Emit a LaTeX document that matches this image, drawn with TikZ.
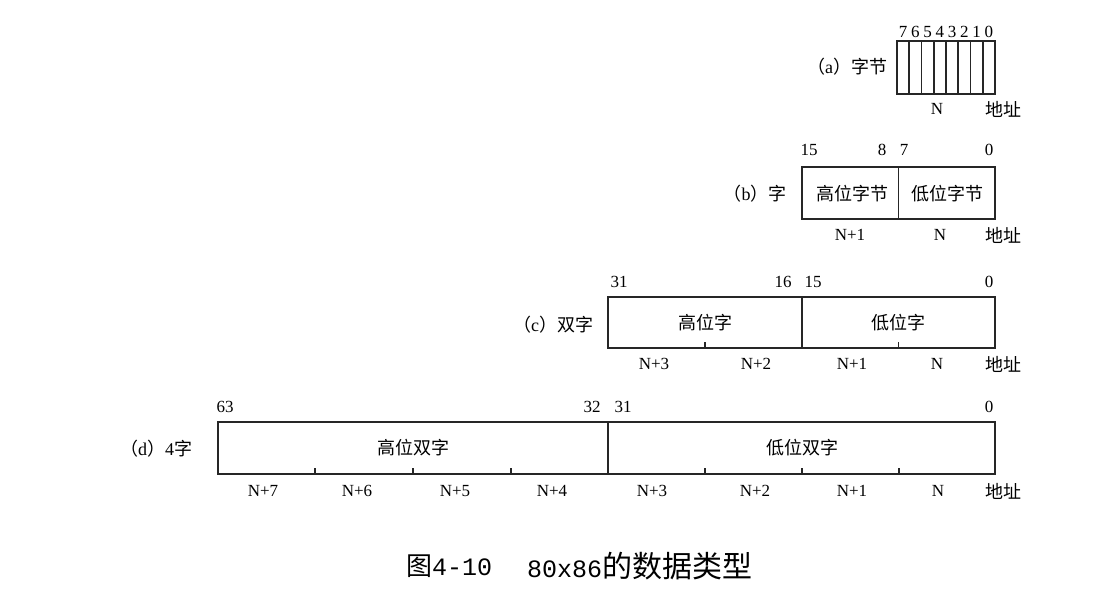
\documentclass[tikz,border=0pt]{standalone}
\usepackage{fontspec}
\setmainfont{Liberation Serif}
\newfontfamily\cjk{Noto Sans CJK SC}
\newfontfamily\capmono{Liberation Mono}
\begin{document}
\begin{tikzpicture}[x=1pt,y=-1pt,
  boxline/.style={draw=black!85,line width=1.6pt},
  tickline/.style={draw=black!85,line width=1.6pt},
  num/.style={font=\fontsize{17}{17}\selectfont,inner sep=0pt},
  lab/.style={font=\fontsize{18}{18}\selectfont\cjk,inner sep=0pt},
  side/.style={font=\fontsize{18}{18}\selectfont,inner sep=0pt},
  captext/.style={inner sep=0pt}]
\useasboundingbox (0,0) rectangle (1108,592);
\fill[white] (0,0) rectangle (1108,592);

% ---------- (a) byte ----------
\draw[boxline] (897,41) rectangle (995,94);
\foreach \i in {1,...,7} {
  \draw[boxline] (897+12.25*\i,41) -- (897+12.25*\i,94);
}
\foreach \i/\b in {0/7,1/6,2/5,3/4,4/3,5/2,6/1,7/0} {
  \node[num] (a\b) at (897+12.25*\i+6.1,32) {\b};
}
\node[side] (alab) at (847,67) {{\cjk （}a{\cjk ）字节}};
\node[num] (aN) at (937,109) {N};
\node[lab] (aaddr) at (1003,109) {地址};

% ---------- (b) word ----------
\draw[boxline] (802,167) rectangle (995,219);
\draw[boxline] (898.5,167) -- (898.5,219);
\node[num] (b15) at (809,150) {15};
\node[num] (b8) at (882,150) {8};
\node[num] (b7) at (904,150) {7};
\node[num] (b0) at (989,150) {0};
\node[lab] (bhi) at (852,194) {高位字节};
\node[lab] (blo) at (947,194) {低位字节};
\node[num] (bN1) at (850,235) {N+1};
\node[num] (bN) at (940,235) {N};
\node[lab] (baddr) at (1003,235) {地址};
\node[side] (blab) at (755,194) {{\cjk （}b{\cjk ）字}};

% ---------- (c) double word ----------
\draw[boxline] (608,297) rectangle (995,348);
\draw[boxline] (802,297) -- (802,348);
\foreach \t in {705,898.5} { \draw[tickline] (\t,348) -- (\t,342); }
\node[num] (c31) at (619,282) {31};
\node[num] (c16) at (783,282) {16};
\node[num] (c15) at (813,282) {15};
\node[num] (c0) at (989,282) {0};
\node[lab] (chi) at (705,323) {高位字};
\node[lab] (clo) at (898,323) {低位字};
\node[num] (cN3) at (654,364) {N+3};
\node[num] (cN2) at (756,364) {N+2};
\node[num] (cN1) at (852,364) {N+1};
\node[num] (cN) at (937,364) {N};
\node[lab] (caddr) at (1003,364) {地址};
\node[side] (clab) at (553,325) {{\cjk （}c{\cjk ）双字}};

% ---------- (d) quad word ----------
\draw[boxline] (218,422) rectangle (995,474);
\draw[boxline] (608,422) -- (608,474);
\foreach \t in {315,413,511,705,802,899} { \draw[tickline] (\t,474) -- (\t,468); }
\node[num] (d63) at (225,407) {63};
\node[num] (d32) at (592,407) {32};
\node[num] (d31) at (623,407) {31};
\node[num] (d0) at (989,407) {0};
\node[lab] (dhi) at (413,448) {高位双字};
\node[lab] (dlo) at (802,448) {低位双字};
\node[num] (dN7) at (263,491) {N+7};
\node[num] (dN6) at (357,491) {N+6};
\node[num] (dN5) at (455,491) {N+5};
\node[num] (dN4) at (552,491) {N+4};
\node[num] (dN3) at (652,491) {N+3};
\node[num] (dN2) at (755,491) {N+2};
\node[num] (dN1) at (852,491) {N+1};
\node[num] (dN) at (938,491) {N};
\node[lab] (daddr) at (1003,491) {地址};
\node[side] (dlab) at (156,449) {{\cjk （}d{\cjk ）}4{\cjk 字}};

% ---------- caption ----------
\node[captext,anchor=west] (cap1) at (406,566)
  {{\fontsize{26}{26}\selectfont\cjk 图}{\fontsize{25}{25}\selectfont\capmono 4-10}};
\node[captext,anchor=west] (cap2) at (527,566)
  {{\fontsize{25}{25}\selectfont\capmono 80x86}{\fontsize{30}{30}\selectfont\cjk 的数据类型}};
\end{tikzpicture}
\end{document}
